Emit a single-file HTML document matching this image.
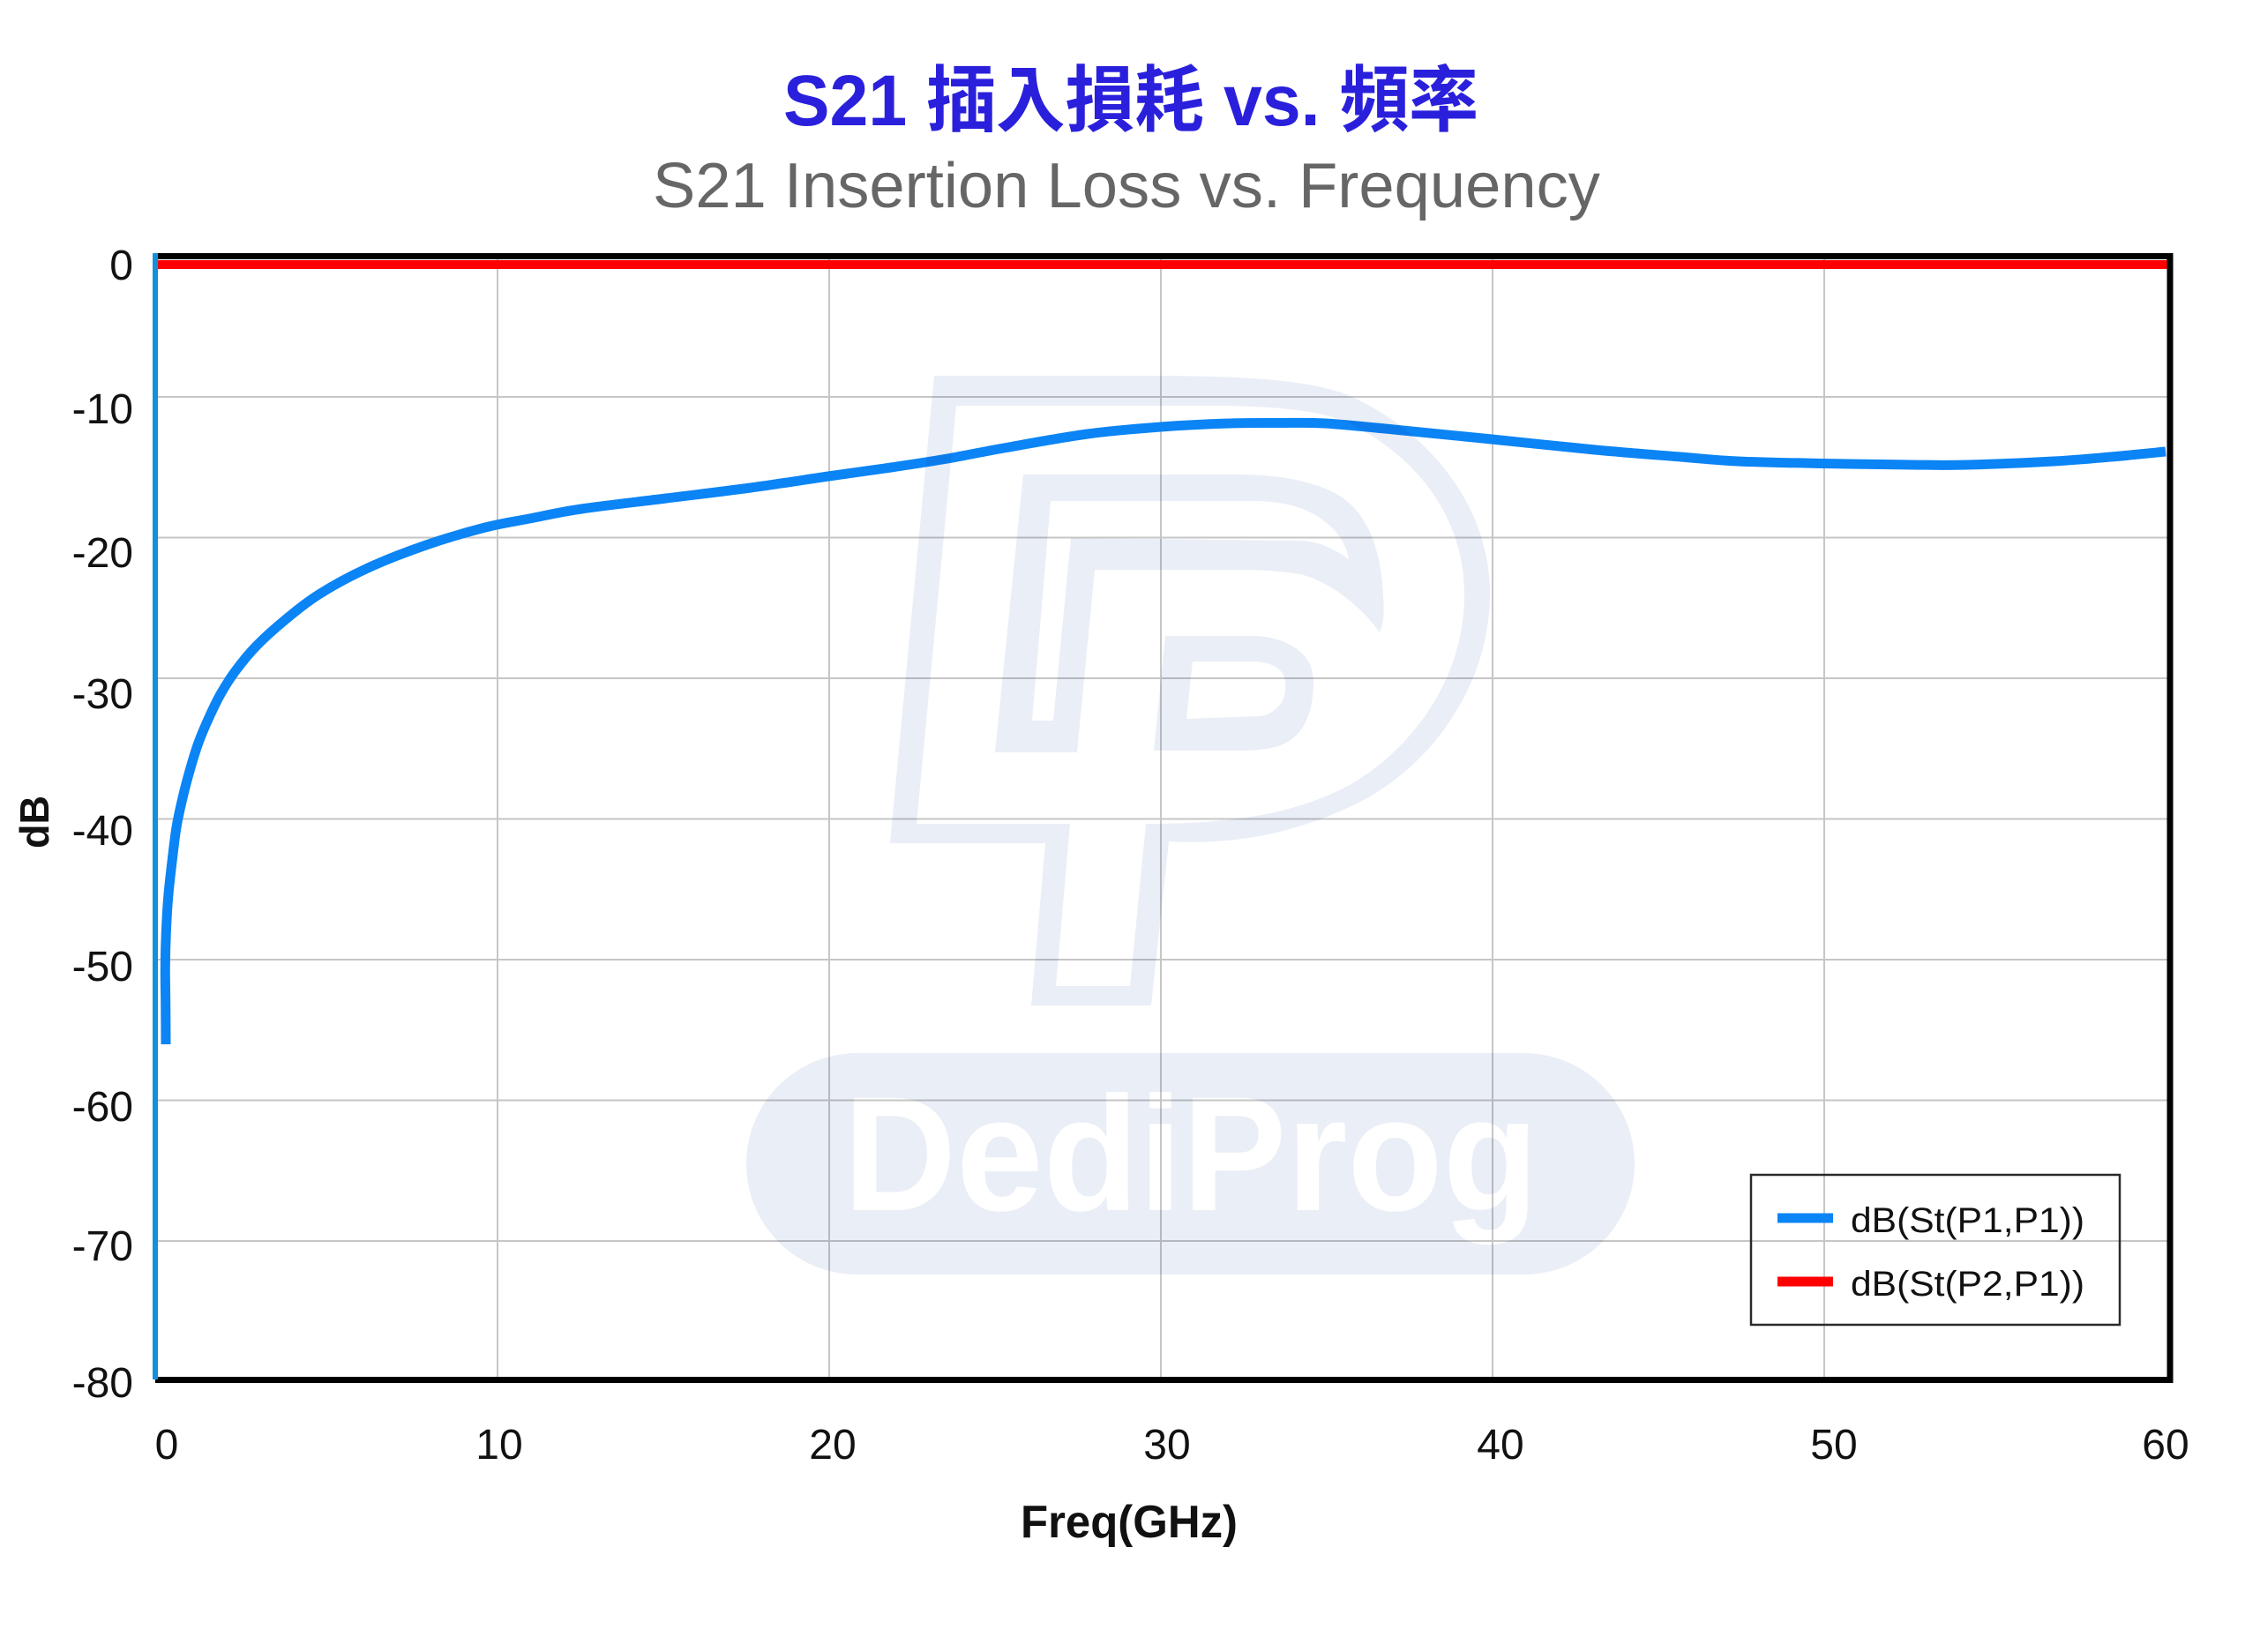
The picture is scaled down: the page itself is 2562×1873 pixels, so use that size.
<!DOCTYPE html>
<html>
<head>
<meta charset="utf-8">
<style>
  html, body { margin: 0; padding: 0; background: #ffffff; }
  svg { display: block; }
  .tick { font-family: "Liberation Sans", "DejaVu Sans", sans-serif; font-size: 48px; fill: #111; }
</style>
</head>
<body>
<svg width="2562" height="1873" viewBox="0 0 2562 1873" xmlns="http://www.w3.org/2000/svg">
  <rect x="0" y="0" width="2562" height="1873" fill="#ffffff"/>

  <!-- Titles -->
  <text x="888" y="142" textLength="788" lengthAdjust="spacingAndGlyphs"
        font-family="'Liberation Sans', 'Noto Sans CJK TC', sans-serif" font-weight="bold"
        font-size="82" fill="#2a20dc">S21 插入損耗 vs. 頻率</text>
  <text x="740" y="235" textLength="1074" lengthAdjust="spacingAndGlyphs"
        font-family="'Liberation Sans', 'DejaVu Sans', sans-serif"
        font-size="72" fill="#666666">S21 Insertion Loss vs. Frequency</text>

  <!-- Gridlines -->
  <g stroke="#c6c6c6" stroke-width="2">
    <line x1="564" y1="294" x2="564" y2="1561"/>
    <line x1="940" y1="294" x2="940" y2="1561"/>
    <line x1="1316" y1="294" x2="1316" y2="1561"/>
    <line x1="1692" y1="294" x2="1692" y2="1561"/>
    <line x1="2068" y1="294" x2="2068" y2="1561"/>
    <line x1="179" y1="450" x2="2457" y2="450"/>
    <line x1="179" y1="609.5" x2="2457" y2="609.5"/>
    <line x1="179" y1="769" x2="2457" y2="769"/>
    <line x1="179" y1="928.5" x2="2457" y2="928.5"/>
    <line x1="179" y1="1088" x2="2457" y2="1088"/>
    <line x1="179" y1="1247.5" x2="2457" y2="1247.5"/>
    <line x1="179" y1="1407" x2="2457" y2="1407"/>
  </g>

  <!-- S11 curve -->
  <polyline id="s11poly" fill="none" stroke="#0b84f5" stroke-width="11" stroke-linejoin="round" stroke-linecap="butt"
    points="188,1184 187.7,1136 187.3,1097 188.3,1057 190.7,1017 195,977 200,938 206.7,906 215,874 225,842 236.7,814 250,787 266.7,761 290,733 323,703 363,673 417,644 483,618 550,598 600,588 659,577 755,565 851,553 939,540 1010,530 1074,520 1138,508 1233,492 1316,484 1393,480 1450,479.5 1502,480 1580,487 1691,498 1808,510 1905,518 1970,523 2067,525.5 2166,527 2231,527 2328,523 2393,518 2455,512"/>
  <path id="s11path" fill="none" stroke="#0b84f5" stroke-width="11" stroke-linejoin="round" stroke-linecap="butt" d=""/>

  <!-- Watermark (multiply) -->
  <g style="mix-blend-mode:multiply" fill="#eaeef6">
    <path fill-rule="evenodd" d="M1059,426 L1302,426 C1420,426 1480,432 1520,445 C1600,475 1690,560 1689,675 C1688,780 1620,870 1540,910 C1470,945 1400,958 1325,954 L1305,1140 L1169,1140 L1185,956 L1009,956 Z
      M1084,460 L1371,460 C1450,460 1500,466 1530,480 C1600,515 1660,580 1660,675 C1660,770 1600,850 1530,890 C1470,922 1400,934 1299,934 L1281,1118 L1197,1118 L1213,934 L1039,934 Z"/>
    <path fill-rule="evenodd" d="M1160,538 L1405,538 C1450,538 1490,546 1515,560 C1550,580 1565,620 1568,675 C1570,700 1567,710 1564,717 C1545,690 1510,660 1474,651 C1440,646 1420,646 1405,646 L1241,646 L1221,853 L1128,853 Z
      M1191,568 L1419,568 C1460,568 1485,578 1500,590 C1515,600 1527,618 1529,634 C1510,620 1490,613 1474,613 L1214,610 L1194,817 L1170,817 Z"/>
    <path fill-rule="evenodd" d="M1321,721 L1419,721 C1450,721 1470,733 1480,745 C1490,758 1490,775 1488,790 C1485,815 1475,835 1454,844 C1440,850 1420,851 1405,851 L1308,851 Z
      M1352,750 L1419,750 C1440,750 1452,757 1456,768 C1459,780 1456,795 1450,800 C1443,808 1435,812 1426,812 L1345,815 Z"/>
    <rect x="846" y="1194" width="1007" height="251" rx="125.5" ry="125.5"/>
    <text x="956" y="1372" textLength="788" lengthAdjust="spacingAndGlyphs"
          font-family="'Liberation Sans', sans-serif" font-weight="bold" font-size="185" fill="#ffffff">DediProg</text>
  </g>

  <!-- S21 red line near 0 dB -->
  <line x1="179" y1="300" x2="2457" y2="300" stroke="#ff0000" stroke-width="10"/>

  <!-- Plot border -->
  <line x1="176" y1="290.5" x2="2463" y2="290.5" stroke="#000" stroke-width="7"/>
  <line x1="176" y1="1564.5" x2="2463" y2="1564.5" stroke="#000" stroke-width="7"/>
  <line x1="2460" y1="287" x2="2460" y2="1568" stroke="#000" stroke-width="7"/>
  <line x1="176" y1="287" x2="176" y2="1564" stroke="#1590da" stroke-width="6"/>

  <!-- Y tick labels -->
  <g class="tick" text-anchor="end">
    <text x="151" y="317">0</text>
    <text x="151" y="480">-10</text>
    <text x="151" y="643">-20</text>
    <text x="151" y="803">-30</text>
    <text x="151" y="958">-40</text>
    <text x="151" y="1112">-50</text>
    <text x="151" y="1271">-60</text>
    <text x="151" y="1429">-70</text>
    <text x="151" y="1584">-80</text>
  </g>

  <!-- X tick labels -->
  <g class="tick" text-anchor="middle">
    <text x="189" y="1654">0</text>
    <text x="566" y="1654">10</text>
    <text x="944" y="1654">20</text>
    <text x="1323" y="1654">30</text>
    <text x="1701" y="1654">40</text>
    <text x="2079" y="1654">50</text>
    <text x="2455" y="1654">60</text>
  </g>

  <!-- Axis titles -->
  <text x="1157" y="1743" textLength="246" lengthAdjust="spacingAndGlyphs"
        font-family="'Liberation Sans', sans-serif" font-weight="bold" font-size="52" fill="#111">Freq(GHz)</text>
  <text transform="translate(55,962) rotate(-90)" x="0" y="0" textLength="60" lengthAdjust="spacingAndGlyphs"
        font-family="'Liberation Sans', sans-serif" font-weight="bold" font-size="46" fill="#111">dB</text>

  <!-- Legend -->
  <rect x="1985" y="1332" width="418" height="170" fill="none" stroke="#2a2a2a" stroke-width="2.5"/>
  <line x1="2015" y1="1381" x2="2078" y2="1381" stroke="#0b84f5" stroke-width="11"/>
  <line x1="2015" y1="1453" x2="2078" y2="1453" stroke="#ff0000" stroke-width="11"/>
  <text x="2098" y="1397" textLength="265" lengthAdjust="spacingAndGlyphs"
        font-family="'Liberation Sans', sans-serif" font-size="40" fill="#111">dB(St(P1,P1))</text>
  <text x="2098" y="1469" textLength="265" lengthAdjust="spacingAndGlyphs"
        font-family="'Liberation Sans', sans-serif" font-size="40" fill="#111">dB(St(P2,P1))</text>
</svg>
<script>
(function(){
  var poly = document.getElementById('s11poly');
  var path = document.getElementById('s11path');
  var raw = poly.getAttribute('points').trim().split(/\s+/);
  var p = raw.map(function(s){ var a = s.split(','); return [parseFloat(a[0]), parseFloat(a[1])]; });
  var d = 'M' + p[0][0] + ',' + p[0][1];
  for (var i = 0; i < p.length - 1; i++) {
    var p0 = p[i-1] || p[i], p1 = p[i], p2 = p[i+1], p3 = p[i+2] || p[i+1];
    var c1x = p1[0] + (p2[0]-p0[0])/6, c1y = p1[1] + (p2[1]-p0[1])/6;
    var c2x = p2[0] - (p3[0]-p1[0])/6, c2y = p2[1] - (p3[1]-p1[1])/6;
    d += ' C' + c1x.toFixed(2) + ',' + c1y.toFixed(2) + ' ' + c2x.toFixed(2) + ',' + c2y.toFixed(2) + ' ' + p2[0] + ',' + p2[1];
  }
  path.setAttribute('d', d);
  poly.setAttribute('visibility', 'hidden');
})();
</script>
</body>
</html>
